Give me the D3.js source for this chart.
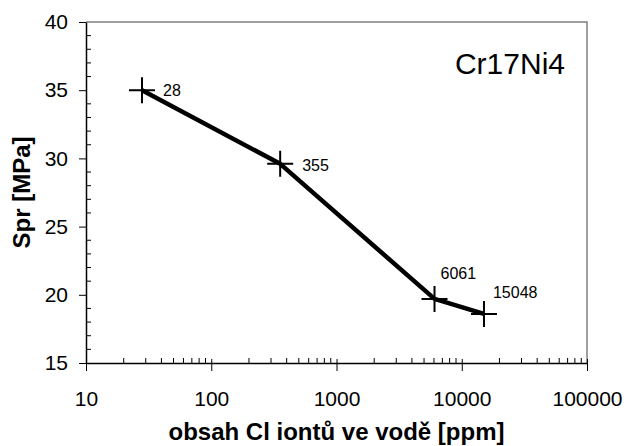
<!DOCTYPE html>
<html>
<head>
<meta charset="utf-8">
<script src="https://cdn.jsdelivr.net/npm/d3@7"></script>
<style>
  body { margin: 0; background: #fff; }
  svg { font-family: "Liberation Sans", Arial, sans-serif; }
</style>
</head>
<body>
<div id="chart"></div>
<script>
// data
const chlorid = [28, 355, 6061, 15048];
const spr = [35, 29.6, 19.7, 18.6];
const pointLabels = ['28', '355', '6061', '15048'];
const xTicks = [10, 100, 1000, 10000, 100000];
const yTicks = [15, 20, 25, 30, 35, 40];

const width = 631;
const height = 446;
const margin = {top: 22, right: 44, bottom: 83, left: 86};

const svg = d3.select('#chart').append('svg')
  .attr('width', width)
  .attr('height', height);

const x = d3.scaleLog()
  .domain([10, 100000])
  .range([margin.left, width - margin.right]);
const y = d3.scaleLinear()
  .domain([15, 40])
  .range([height - margin.bottom, margin.top]);

// frame - top and right grey
svg.append('path')
  .attr('d', `M${x(10)},${y(40)}H${x(100000)}V${y(15)}`)
  .attr('fill', 'none')
  .attr('stroke', '#808080')
  .attr('stroke-width', 1.5);

// minor ticks ----------------------------------------------------------
const xMinor = [];
for (let d = 10; d < 100000; d *= 10) {
  for (let k = 2; k <= 9; k++) xMinor.push(d * k);
}
svg.append('g')
  .selectAll('line')
  .data(xMinor)
  .join('line')
  .attr('x1', d => x(d)).attr('x2', d => x(d))
  .attr('y1', y(15)).attr('y2', y(15) - 5)
  .attr('stroke', '#000');

const yMinor = d3.range(15, 40).filter(v => v % 5 !== 0);
svg.append('g')
  .selectAll('line')
  .data(yMinor)
  .join('line')
  .attr('x1', x(10)).attr('x2', x(10) + 5)
  .attr('y1', d => y(d)).attr('y2', d => y(d))
  .attr('stroke', '#000');

// axes ----------------------------------------------------------------
const xAxis = svg.append('g')
  .attr('transform', `translate(0,${y(15)})`)
  .call(d3.axisBottom(x).tickValues(xTicks).tickFormat(d3.format('d')).tickSizeInner(8).tickSizeOuter(0).tickPadding(20));
const yAxis = svg.append('g')
  .attr('transform', `translate(${x(10)},0)`)
  .call(d3.axisLeft(y).tickValues(yTicks).tickSizeInner(7).tickSizeOuter(0).tickPadding(11));

[xAxis, yAxis].forEach(g => {
  g.select('.domain').attr('stroke', '#000').attr('stroke-width', 1.5);
  g.selectAll('.tick line').attr('stroke', '#000');
  g.selectAll('.tick text')
    .attr('font-family', '"Liberation Sans", Arial, sans-serif')
    .attr('font-size', 21)
    .attr('fill', '#000');
});
xAxis.selectAll('.tick line').attr('y1', -4);

// axis titles
svg.append('text')
  .attr('x', (x(10) + x(100000)) / 2)
  .attr('y', 440)
  .attr('text-anchor', 'middle')
  .attr('font-weight', 'bold')
  .attr('font-size', 24)
  .text('obsah Cl iontů ve vodě [ppm]');
svg.append('text')
  .attr('transform', `translate(30,${(y(15) + y(40)) / 2}) rotate(-90)`)
  .attr('text-anchor', 'middle')
  .attr('font-weight', 'bold')
  .attr('font-size', 24)
  .text('Spr [MPa]');

// series line ------------------------------------------------------------
const points = chlorid.map((c, i) => ({c: c, s: spr[i], label: pointLabels[i]}));
const line = d3.line().x(d => x(d.c)).y(d => y(d.s));
svg.append('path')
  .datum(points)
  .attr('d', line)
  .attr('fill', 'none')
  .attr('stroke', '#000')
  .attr('stroke-width', 4.5)
  .attr('stroke-linejoin', 'round');

// cross markers
const cross = 13;
svg.append('g')
  .selectAll('path')
  .data(points)
  .join('path')
  .attr('d', d => `M${x(d.c) - cross},${y(d.s)}H${x(d.c) + cross}M${x(d.c)},${y(d.s) - cross}V${y(d.s) + cross}`)
  .attr('stroke', '#000')
  .attr('stroke-width', 2);

// point labels
const labelOffset = [[21, 0], [22, 1], [6, -26], [9, -22]];
svg.append('g')
  .selectAll('text')
  .data(points)
  .join('text')
  .attr('x', (d, i) => x(d.c) + labelOffset[i][0])
  .attr('y', (d, i) => y(d.s) + labelOffset[i][1] + 6)
  .attr('font-size', 16)
  .text(d => d.label);

// alloy name
svg.append('text')
  .attr('x', 565)
  .attr('y', 74)
  .attr('text-anchor', 'end')
  .attr('font-size', 30)
  .text('Cr17Ni4');
</script>
</body>
</html>
